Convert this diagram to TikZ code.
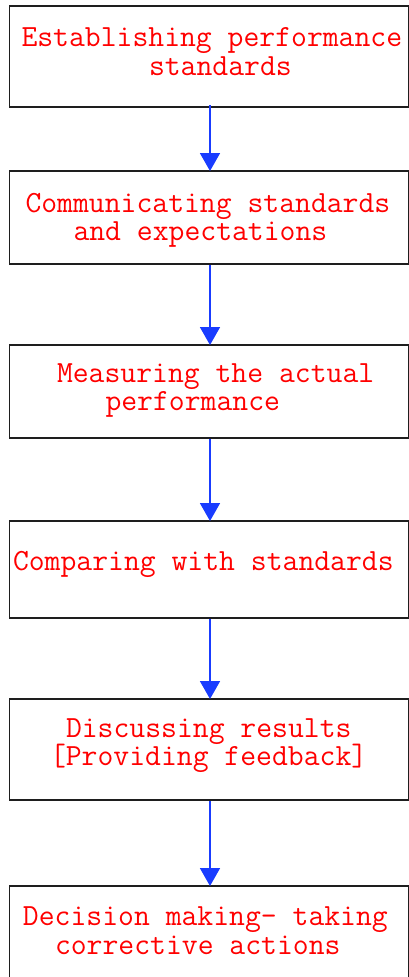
\documentclass[tikz,border=0pt]{standalone}
\usetikzlibrary{arrows.meta}
\definecolor{steptext}{RGB}{255,0,0}
\definecolor{flowblue}{RGB}{25,60,255}
\definecolor{boxline}{RGB}{30,30,30}
\tikzset{
  stepbox/.style={draw=boxline, line width=1.6pt, fill=white, rectangle,
    minimum width=399pt, inner sep=0pt, outer sep=0pt},
  steplabel/.style={anchor=base west, inner sep=0pt, outer sep=0pt,
    text height=0.6em, text depth=0.18em,
    text=steptext, font=\ttfamily\fontsize{30.8pt}{26pt}\selectfont},
  flow/.style={draw=flowblue, line width=1.8pt,
    -{Triangle[width=20pt,length=18pt]}, shorten <=1pt}
}
\begin{document}
\begin{tikzpicture}[x=1pt,y=-1pt]
  \clip (0,0) rectangle (409,977);
  \fill[white] (0,0) rectangle (409,977);

  % process boxes
  \node[stepbox, minimum height=101pt] (b1) at (209,56.5) {};
  \node[stepbox, minimum height=93pt]  (b2) at (209,217.5) {};
  \node[stepbox, minimum height=93pt]  (b3) at (209,391.5) {};
  \node[stepbox, minimum height=97pt]  (b4) at (209,569.5) {};
  \node[stepbox, minimum height=101pt] (b5) at (209,749.5) {};
  \node[stepbox, minimum height=110pt] (b6) at (209,941) {};

  % labels
  \node[steplabel] (t1a) at (21.5,46)  {Establishing performance};
  \node[steplabel] (t1b) at (149,75)   {standards};
  \node[steplabel] (t2a) at (25.5,212) {Communicating standards};
  \node[steplabel] (t2b) at (73.5,240) {and expectations};
  \node[steplabel] (t3a) at (57,382)   {Measuring the actual};
  \node[steplabel] (t3b) at (105.5,410) {performance};
  \node[steplabel] (t4a) at (13,570)   {Comparing with standards};
  \node[steplabel] (t5a) at (66,737)   {Discussing results};
  \node[steplabel] (t5b) at (50,765)   {[Providing feedback]};
  \node[steplabel] (t6a) at (23,925)   {Decision making- taking};
  \node[steplabel] (t6b) at (55,954)   {corrective actions};

  % connectors
  \draw[flow] ([xshift=1pt,yshift=3pt]b1.south) -- ([xshift=1pt]b2.north);
  \draw[flow] ([xshift=1pt]b2.south) -- ([xshift=1pt]b3.north);
  \draw[flow] ([xshift=1pt]b3.south) -- ([xshift=1pt]b4.north);
  \draw[flow] ([xshift=1pt]b4.south) -- ([xshift=1pt]b5.north);
  \draw[flow] ([xshift=1pt]b5.south) -- ([xshift=1pt]b6.north);
\end{tikzpicture}
\end{document}
